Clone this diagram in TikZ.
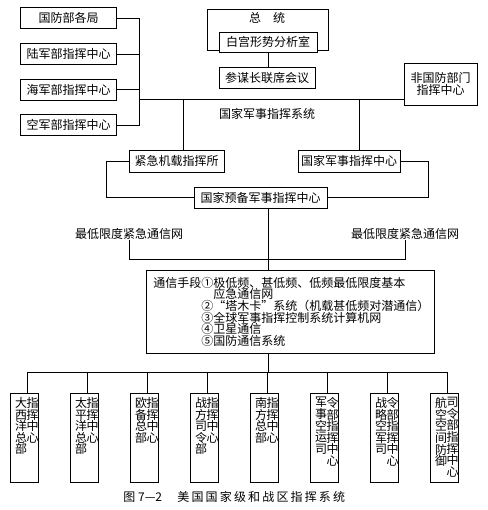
\documentclass[tikz,border=0pt]{standalone}
\usepackage{fontspec}
\setmainfont{Noto Sans CJK SC}
\usetikzlibrary{calc}
\newcommand\theaterbox[4]{%
  \node[vbx, anchor=north west] (#1) at (#2,392.5) {};
  \node[col, anchor=north] (#1a) at ($(#1.north west)+(11.5,4.5)$) {#3};
  \node[col, anchor=north] (#1b) at ($(#1.north west)+(23,4.5)$) {#4};
  \coordinate (#1s) at ($(#1.north west)+(17.5,0)$);
  \draw (#1s |- by) -- (#1s);
}
\begin{document}
\begin{tikzpicture}[x=1pt,y=-1pt,line width=0.8pt,
  every node/.style={inner sep=0pt,font=\fontsize{12}{11.6}\selectfont},
  box/.style={draw,fill=white,minimum height=21pt},
  vbx/.style={draw,minimum width=28.5pt,minimum height=89.5pt},
  col/.style={align=center,font=\fontsize{12}{11.6}\selectfont},
  label/.style={font=\fontsize{12}{11.6}\selectfont}]
\useasboundingbox[fill=white] (0,0) rectangle (487,510);

% left column of departments
\node[box,minimum width=96pt] (gfb) at (68.7,18) {国防部各局};
\node[box,minimum width=96pt] (lj) at (68.7,54) {陆军部指挥中心};
\node[box,minimum width=96pt] (hj) at (68.7,89.5) {海军部指挥中心};
\node[box,minimum width=96pt] (kj) at (68.7,125) {空军部指挥中心};

% president
\node[draw,minimum width=121pt,minimum height=41pt] (zt) at (267.5,29.5) {};
\node (ztt) at (267,17.5) {总　统};
\node[box,minimum width=98pt,minimum height=20pt] (bg) at (268,42) {白宫形势分析室};
\node[box,minimum width=96pt] (cm) at (267,77.5) {参谋长联席会议};
\draw (bg.south) -- (bg.south |- cm.north);

\node[box,minimum width=73pt,minimum height=42pt,align=center] (fgf) at (440.5,84) {非国防部门\\指挥中心};

% bus
\coordinate (bx) at (139,99);
\draw (gfb.east) -- (gfb.east -| bx) -- (kj.east -| bx) -- (kj.east);
\draw (lj.east) -- (lj.east -| bx);
\draw (hj.east) -- (hj.east -| bx);
\draw (bx) -- (fgf.west |- bx);

\node (xt) at (267,114) {国家军事指挥系统};

\node[box,minimum width=95pt,minimum height=22pt] (jj) at (176.5,161) {紧急机载指挥所};
\node[box,minimum width=102pt,minimum height=22pt] (gj) at (349,161) {国家军事指挥中心};
\coordinate (v1) at (183,99);
\coordinate (v2) at (359,99);
\draw (v1) -- (v1 |- jj.north);
\draw (v2) -- (v2 |- gj.north);

\node[box,minimum width=133pt,minimum height=21pt] (yb) at (260.5,197.5) {国家预备军事指挥中心};
\coordinate (lx) at (106,0);
\coordinate (rx) at (428,0);
\draw (jj.west) -- (jj.west -| lx) -- (yb.west -| lx) -- (yb.west);
\draw (gj.east) -- (gj.east -| rx) -- (yb.east -| rx) -- (yb.east);

\node[label] (mL) at (129,234) {最低限度紧急通信网};
\node[label] (mR) at (405,234) {最低限度紧急通信网};
\coordinate (hy) at (0,259);
\coordinate (cx) at (268,0);
\draw (mL.south) -- (mL.south |- hy) -- (mR.south |- hy) -- (mR.south);

\node[draw,minimum width=288pt,minimum height=83pt] (comm) at (290,311.5) {};
\node[anchor=north west,align=left,font=\fontsize{12}{11.7}\selectfont] (commtxt) at (153,276.5) {%
通信手段①极低频、甚低频、低频最低限度基本\\
\hspace*{60pt}应急通信网\\
\hspace*{48pt}②“塔木卡”系统（机载甚低频对潜通信）\\
\hspace*{48pt}③全球军事指挥控制系统计算机网\\
\hspace*{48pt}④卫星通信\\
\hspace*{48pt}⑤国防通信系统};
\draw (cx |- yb.south) -- (cx |- comm.north);

% theater commands
\coordinate (by) at (0,372);
\draw (cx |- comm.south) -- (cx |- by);
\theaterbox{b1}{9.5}{大\\西\\洋\\总\\部}{指\\挥\\中\\心}
\theaterbox{b2}{69.5}{太\\平\\洋\\总\\部}{指\\挥\\中\\心}
\theaterbox{b3}{129.5}{欧\\备\\总\\部}{指\\挥\\中\\心}
\theaterbox{b4}{189.5}{战\\方\\司\\令\\部}{指\\挥\\中\\心}
\theaterbox{b5}{249.5}{南\\方\\总\\部}{指\\挥\\中\\心}
\theaterbox{b6}{309.5}{军\\事\\空\\运\\司}{令\\部\\指\\挥\\中\\心}
\theaterbox{b7}{369.5}{战\\略\\空\\军\\司}{令\\部\\指\\挥\\中\\心}
\theaterbox{b8}{429.5}{航\\空\\空\\间\\防\\御}{司\\令\\部\\指\\挥\\中\\心}
\draw (b1s |- by) -- (b8s |- by);

\node[anchor=west] (capA) at (123,497) {图 7—2};
\node[anchor=west,font=\fontsize{12}{11.6}\selectfont\addfontfeature{LetterSpace=18}] (capB) at (177,497) {美国国家级和战区指挥系统};
\end{tikzpicture}
\end{document}
